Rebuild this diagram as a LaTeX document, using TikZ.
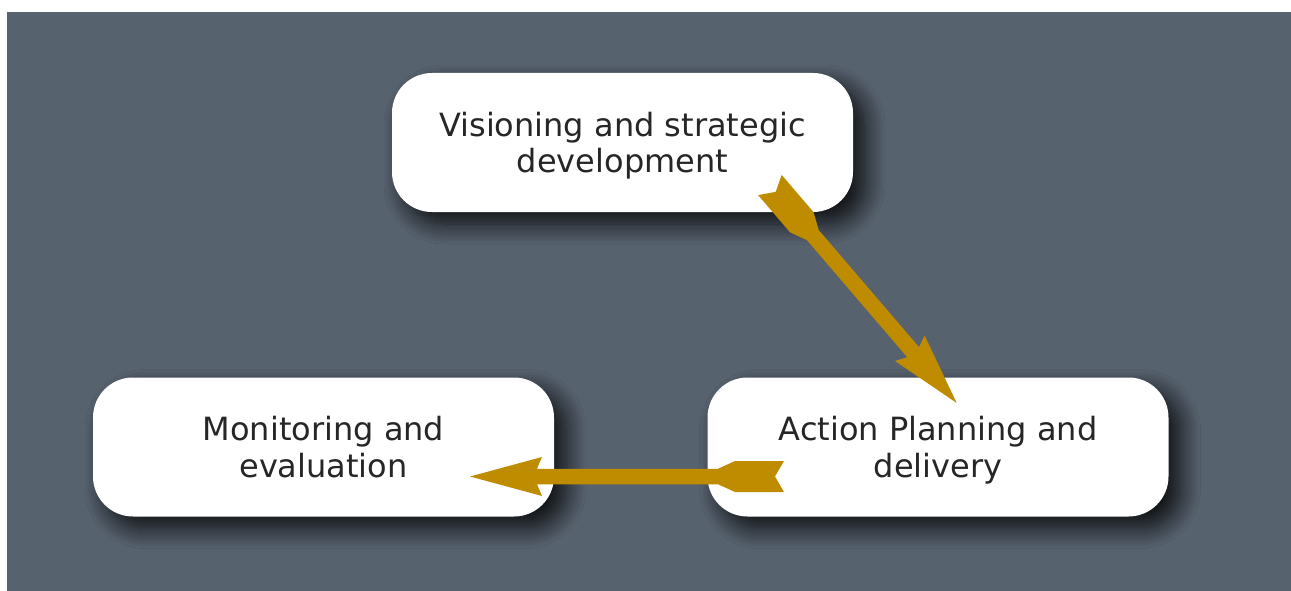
\documentclass[tikz,border=0pt]{standalone}
\usepackage{fontspec}
\setmainfont{DejaVu Sans}
\usetikzlibrary{shadows.blur, decorations.markings}

\definecolor{slate}{HTML}{57626F}
\definecolor{gold}{HTML}{BF8C00}
\definecolor{ink}{HTML}{262626}

\tikzset{
  stagebox/.style={
    fill=white, rounded corners=40pt,
    minimum width=461pt, minimum height=139pt, inner sep=0pt,
    align=center, text=ink, font=\fontsize{32}{36.5}\selectfont,
    text depth=0pt,
    blur shadow={shadow xshift=12pt, shadow yshift=-12pt,
                 shadow blur radius=20pt, shadow blur steps=20,
                 shadow opacity=85}},
  % thick arrow with a swallow-tailed fletching at its start
  fletched/.style={
    decorate, decoration={markings, mark=at position 0 with {
      \pgfmathsetlengthmacro\arrlen{\pgfdecoratedpathlength}
      \fill[gold]
        (9pt,0pt) -- (0pt,15.5pt) -- (49pt,15.5pt) -- (66pt,7.75pt)
        -- ({\arrlen-67pt},7.75pt) -- ({\arrlen-72pt},19.5pt)
        -- (\arrlen,0pt)
        -- ({\arrlen-72pt},-19.5pt) -- ({\arrlen-67pt},-7.75pt)
        -- (66pt,-7.75pt) -- (49pt,-15.5pt) -- (0pt,-15.5pt) -- cycle;
    }}}
}

\begin{document}
\begin{tikzpicture}[x=1pt, y=-1pt]
  \useasboundingbox (0,0) rectangle (1291,591);
  \fill[white] (0,0) rectangle (1291,591);
  \fill[slate] (7,12) rectangle (1291,591);

  \node[stagebox] (vision)  at (622.5,142.5) {Visioning and strategic\\development};
  \node[stagebox] (monitor) at (323.5,447)   {Monitoring and\\evaluation};
  \node[stagebox] (action)  at (938,447)     {Action Planning and\\delivery};

  \coordinate (vision-out)  at (769.9,185);
  \coordinate (action-in)   at (956.7,403);
  \coordinate (action-out)  at (784,476.5);
  \coordinate (monitor-in)  at (470,476.5);

  \path[fletched] (vision-out) -- (action-in);
  \path[fletched] (action-out) -- (monitor-in);
\end{tikzpicture}
\end{document}
